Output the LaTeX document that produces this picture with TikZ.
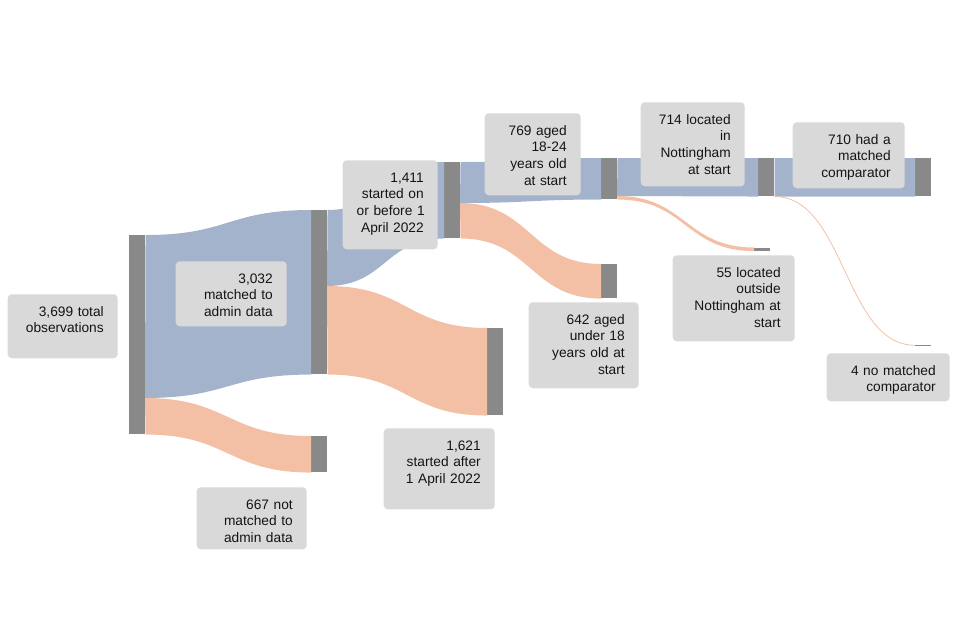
\documentclass[tikz,border=0pt]{standalone}
\usepackage{fontspec}
\setmainfont{Liberation Sans}

\begin{document}
\begin{tikzpicture}[x=0.75pt,y=-0.75pt,
bar/.style={fill=bargrey,inner sep=0pt,minimum width=12pt,anchor=north west},
blueflow/.style={fill=flowblue},
orangeflow/.style={fill=floworange},
thinflow/.style={draw=floworange,line width=0.6pt},
infobox/.style={fill=boxgrey,rounded corners=3pt,anchor=north east,align=right,
  inner xsep=10.5pt,inner ysep=0pt,text height=16.5pt,text=textgrey,
  font=\fontsize{10.3pt}{12.5pt}\selectfont,
  execute at begin node={\hyphenpenalty=10000\exhyphenpenalty=10000}}]

\definecolor{flowblue}{RGB}{163,179,204}
\definecolor{floworange}{RGB}{243,192,165}
\definecolor{bargrey}{RGB}{137,137,137}
\definecolor{boxgrey}{RGB}{217,217,217}
\definecolor{textgrey}{RGB}{20,20,20}

\useasboundingbox (0,0) rectangle (960,640);

% Bars
\node[bar,minimum height=149.25pt] (total) at (129,235) {};
\node[bar,minimum height=123pt] (matched) at (311,210) {};
\node[bar,minimum height=27pt] (notmatched) at (311,436) {};
\node[bar,minimum height=57pt] (before) at (444,162) {};
\node[bar,minimum height=65.25pt] (after) at (487,328) {};
\node[bar,minimum height=30.75pt] (young) at (601,158) {};
\node[bar,minimum height=25.5pt] (under) at (601,264) {};
\node[bar,minimum height=28.5pt] (notts) at (758,158) {};
\node[bar,minimum height=2.25pt] (outside) at (754,247.5) {};
\node[bar,minimum height=28.5pt] (comp) at (915,158) {};
\node[bar,minimum height=0.45pt] (nocomp) at (915,344.7) {};

\coordinate (total split) at (145,398);
\coordinate (matched split) at (327,286);
\coordinate (before split) at (460,203);
\coordinate (young split) at (617,196);

% Flows
\fill[blueflow] (total.north east) .. controls +(83,0) and +(-83,0) .. (matched.north west)
  -- (matched.south west) .. controls +(-83,0) and +(83,0) .. (total split) -- cycle;
\fill[orangeflow] (total split) .. controls +(83,0) and +(-83,0) .. (notmatched.north west)
  -- (notmatched.south west) .. controls +(-83,0) and +(83,0) .. (total.south east) -- cycle;

\fill[blueflow] (matched.north east) .. controls +(58.5,0) and +(-58.5,0) .. (before.north west)
  -- (before.south west) .. controls +(-58.5,0) and +(58.5,0) .. (matched split) -- cycle;
\fill[orangeflow] (matched split) .. controls +(80,0) and +(-80,0) .. (after.north west)
  -- (after.south west) .. controls +(-80,0) and +(80,0) .. (matched.south east) -- cycle;

\fill[blueflow] (before.north east) .. controls +(70.5,0) and +(-70.5,0) .. (young.north west)
  -- (young.south west) .. controls +(-70.5,0) and +(70.5,0) .. (before split) -- cycle;
\fill[orangeflow] (before split) .. controls +(70.5,0) and +(-70.5,0) .. (under.north west)
  -- (under.south west) .. controls +(-70.5,0) and +(70.5,0) .. (before.south east) -- cycle;

\fill[blueflow] (young.north east) .. controls +(70.5,0) and +(-70.5,0) .. (notts.north west)
  -- (notts.south west) .. controls +(-70.5,0) and +(70.5,0) .. (young split) -- cycle;
\fill[orangeflow] (young split) .. controls +(68.5,0) and +(-68.5,0) .. (outside.north west)
  -- (outside.south west) .. controls +(-68.5,0) and +(68.5,0) .. (young.south east) -- cycle;

\fill[blueflow] (notts.north east) .. controls +(70.5,0) and +(-70.5,0) .. (comp.north west)
  -- (comp.south west) .. controls +(-70.5,0) and +(70.5,0) .. (notts.south east) -- cycle;
\draw[thinflow] (notts.south east) .. controls +(70.5,0) and +(-70.5,0) .. (nocomp.west);

% Labels
\node[infobox,text width=61.5pt,text depth=31.5pt] (total label) at (118,294)
  {3,699~total\\observations};
\node[infobox,text width=62.25pt,text depth=32.25pt] (matched label) at (287,261)
  {3,032\\matched~to\\admin~data};
\node[infobox,text width=61.5pt,text depth=30pt] (notmatched label) at (307,487)
  {667~not\\matched~to\\admin~data};
\node[infobox,text width=50.25pt,text depth=50.25pt] (before label) at (438,160)
  {1,411\\started~on\\or~before~1\\April~2022};
\node[infobox,text width=62.25pt,text depth=44.25pt] (after label) at (495,428)
  {1,621\\started~after\\1~April~2022};
\node[infobox,text width=51pt,text depth=45pt] (young label) at (581,113)
  {769~aged\\18-24\\years~old\\at~start};
\node[infobox,text width=61.5pt,text depth=48pt] (under label) at (639,302)
  {642~aged\\under~18\\years~old~at\\start};
\node[infobox,text width=57pt,text depth=46.5pt] (notts label) at (745,102)
  {714~located\\in\\Nottingham\\at~start};
\node[infobox,text width=70.5pt,text depth=48pt] (outside label) at (795,255)
  {55~located\\outside\\Nottingham~at\\start};
\node[infobox,text width=63pt,text depth=33pt] (comp label) at (905,122)
  {710~had~a\\matched\\comparator};
\node[infobox,text width=71.25pt,text depth=19.5pt] (nocomp label) at (950,353)
  {4~no~matched\\comparator};

\end{tikzpicture}
\end{document}
